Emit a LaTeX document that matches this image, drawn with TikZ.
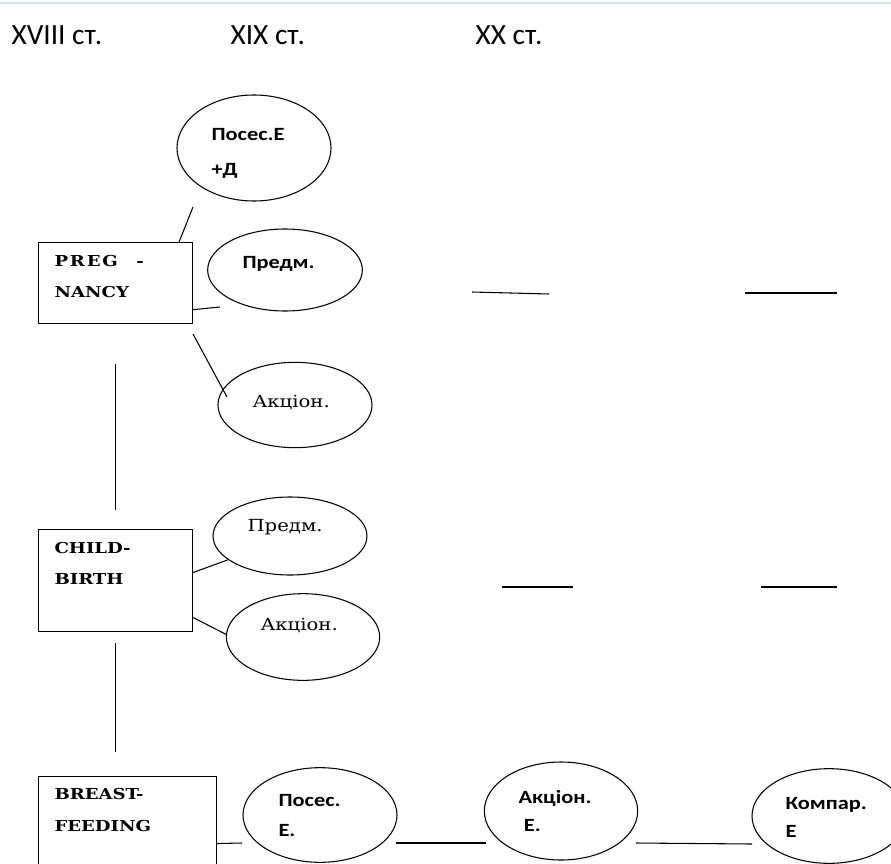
\documentclass[tikz,border=0pt]{standalone}
\usepackage{fontspec}
\setmainfont{Carlito}
\newfontfamily\ovalfont[FakeStretch=1.2]{Carlito}
\newfontfamily\oldfont[FakeStretch=1.18]{DejaVu Serif}
\newfontfamily\boxfont[FakeStretch=1.2]{DejaVu Serif}
\usepackage{tikz}
\usetikzlibrary{shapes.geometric}
\definecolor{pageline}{RGB}{205,224,244}

\begin{document}
\begin{tikzpicture}[x=0.75pt,y=-0.75pt,line width=0.8pt,
  era/.style={inner sep=0pt,anchor=north west,font=\fontsize{22}{26}\selectfont},
  term/.style={draw,inner sep=0pt,anchor=north west,minimum width=115.5pt},
  termtext/.style={inner sep=0pt,anchor=north west,align=left},
  oval/.style={draw,ellipse,inner sep=0pt},
  sanslbl/.style={inner sep=0pt,anchor=north west,align=left},
  seriflbl/.style={inner sep=0pt,anchor=north west,font=\oldfont\fontsize{12.5}{15}\selectfont}]
\useasboundingbox (0,0) rectangle (891,863);
\draw[pageline,line width=1.2pt] (0,3) -- (891,3);

% centuries
\node[era] (c18) at (11,25) {XVIII ст.};
\node[era] (c19) at (230,25) {XIX ст.};
\node[era] (c20) at (475,25) {XX ст.};

% terms
\node[term,minimum height=60.75pt] (preg) at (38,242) {};
\node[termtext,font=\boxfont\bfseries\fontsize{11.3}{23.25}\selectfont] (pregtxt) at (54,255) {{\addfontfeature{LetterSpace=12}PREG}\hspace{14pt}-\\NANCY};
\node[term,minimum height=76.5pt] (child) at (38,529) {};
\node[termtext,font=\boxfont\bfseries\fontsize{11.3}{23.25}\selectfont] (childtxt) at (54,542) {CHILD-\\BIRTH};
\node[term,minimum width=133.5pt,minimum height=82.5pt] (breast) at (38,776) {};
\node[termtext,font=\boxfont\bfseries\fontsize{11.3}{24}\selectfont] (breasttxt) at (54,788) {BREAST-\\FEEDING};

% ellipses
\node[oval,minimum width=115.5pt,minimum height=79.5pt] (possd) at (254,148) {};
\node[sanslbl,font=\ovalfont\bfseries\fontsize{14}{26.25}\selectfont] (possdtxt) at (211,128) {Посес.Е\\+Д};
\node[oval,minimum width=116pt,minimum height=61.5pt] (pregpred) at (285,270) {};
\node[sanslbl,font=\ovalfont\bfseries\fontsize{14}{17}\selectfont] (pregpredtxt) at (242,256) {Предм.};
\node[oval,minimum width=115.5pt,minimum height=64pt] (pregact) at (295,405) {};
\node[seriflbl] (pregacttxt) at (252,395) {Акціон.};
\node[oval,minimum width=115.5pt,minimum height=58.5pt] (childpred) at (290,536) {};
\node[seriflbl] (childpredtxt) at (247,519) {Предм.};
\node[oval,minimum width=115pt,minimum height=65pt] (childact) at (303,637) {};
\node[seriflbl] (childacttxt) at (260,618) {Акціон.};
\node[oval,minimum width=115.5pt,minimum height=71pt] (posse) at (320,815) {};
\node[sanslbl,font=\ovalfont\bfseries\fontsize{14}{22.5}\selectfont] (possetxt) at (278,794) {Посес.\\Е.};
\node[oval,minimum width=115pt,minimum height=73.5pt] (acte) at (561,811) {};
\node[sanslbl,font=\ovalfont\bfseries\fontsize{14}{21}\selectfont] (actetxt) at (518,790) {Акціон.\\\hspace*{4pt}Е.};
\node[oval,minimum width=115.5pt,minimum height=71pt] (compar) at (829,816) {};
\node[sanslbl,font=\ovalfont\bfseries\fontsize{14}{21}\selectfont] (compartxt) at (785,797) {Компар.\\Е};

% free ends
\coordinate (pregup) at (193,207);
\coordinate (pregpredend) at (220,307);
\coordinate (pregactend) at (227,397);
\coordinate (posseend) at (242,843);
\coordinate (posser) at (396,843);
\coordinate (actel) at (486,843);
\coordinate (acter) at (636,843);
\coordinate (comparl) at (752,844);

% connectors
\draw ([xshift=-10.5pt]preg.north east) -- (pregup);
\draw ([yshift=-20pt]preg.east) -- (pregpredend);
\draw ([yshift=-7.5pt]preg.south east) -- (pregactend);
\draw[shorten <=30pt,shorten >=14.25pt] (preg.south) -- (child.north);
\draw ([yshift=6pt]child.east) -- (childpred.201);
\draw ([yshift=-27.75pt]child.east) -- (childact.178);
\draw[shorten <=8.25pt,shorten >=18pt] (child.south) -- (child.south |- breast.north);
\draw ([yshift=-9pt]breast.east) -- (posseend);
\draw (posser) -- (actel);
\draw (acter) -- (comparl);

% dashes
\coordinate (d1a) at (472,292); \coordinate (d1b) at (549,294);
\coordinate (d2a) at (745,293); \coordinate (d2b) at (837,293);
\coordinate (d3a) at (502,587); \coordinate (d3b) at (573,587);
\coordinate (d4a) at (761,587); \coordinate (d4b) at (837,587);
\draw (d1a) -- (d1b);
\draw (d2a) -- (d2b);
\draw (d3a) -- (d3b);
\draw (d4a) -- (d4b);

\end{tikzpicture}
\end{document}
